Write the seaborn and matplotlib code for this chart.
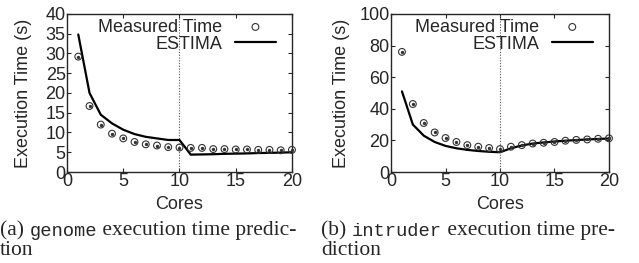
import pandas as pd
import matplotlib.pyplot as plt
import seaborn as sns

# --- data ---
cores = list(range(1, 21))

genome_measured = [29.2, 16.7, 12.0, 9.7, 8.5, 7.6, 7.0, 6.7, 6.3, 6.2,
                   6.1, 6.1, 5.8, 5.8, 5.7, 5.7, 5.6, 5.6, 5.5, 5.6]
genome_estima = [34.8, 20.0, 14.5, 12.3, 10.7, 9.6, 8.9, 8.5, 8.1, 8.1,
                 4.4, 4.45, 4.5, 4.6, 4.65, 4.7, 4.8, 4.85, 4.9, 5.0]

intruder_measured = [76.0, 43.0, 31.0, 25.0, 21.5, 19.0, 17.0, 16.0, 15.2, 14.5,
                     16.0, 17.0, 18.0, 18.5, 19.0, 19.8, 20.3, 20.6, 21.0, 21.3]
intruder_estima = [51.0, 30.0, 23.0, 19.0, 16.5, 15.0, 14.0, 13.3, 12.8, 12.5,
                   15.0, 16.8, 18.0, 18.7, 19.3, 19.8, 20.2, 20.6, 20.9, 21.2]

ylims = [40, 100]
yticks = [list(range(0, 41, 5)), list(range(0, 101, 20))]
captions = [("(a) ", "genome", " execution time predic-", "tion"),
            ("(b) ", "intruder", " execution time pre-", "diction")]

sns.set_style("ticks")
plt.rcParams['font.family'] = ['Liberation Sans', 'DejaVu Sans']
plt.rcParams['font.size'] = 13

fig = plt.figure(figsize=(6.39, 2.63), dpi=100)
ax_a = fig.add_axes([0.1049, 0.346, 0.352, 0.601])
ax_b = fig.add_axes([0.612, 0.346, 0.341, 0.601])

panels = [(ax_a, genome_measured, genome_estima),
          (ax_b, intruder_measured, intruder_estima)]
legend_x = [0.93, 0.927]
ylabel_pad = [10, 7]

for i, (ax, measured, estima) in enumerate(panels):
    df = pd.DataFrame({'Cores': cores, 'Measured': measured, 'ESTIMA': estima})
    ax.axvline(10, color='#555555', linestyle=(0, (1, 1.5)), linewidth=0.8, zorder=1)
    sns.lineplot(data=df, x='Cores', y='ESTIMA', ax=ax, color='black',
                 linewidth=1.6, label='ESTIMA', zorder=2)
    sns.scatterplot(data=df, x='Cores', y='Measured', ax=ax, marker='o', s=24,
                    facecolor='none', edgecolor='#333333', linewidth=0.8,
                    label='Measured Time', zorder=3, clip_on=False)
    ax.scatter(cores, measured, s=2, color='#333333', zorder=4, clip_on=False)

    ax.set_xlim(0, 20)
    ax.set_ylim(0, ylims[i])
    ax.set_xticks([0, 5, 10, 15, 20])
    ax.set_yticks(yticks[i])
    ax.tick_params(direction='in', top=True, right=True, length=3, width=0.8,
                   labelsize=13, pad=1)
    for s in ax.spines.values():
        s.set_linewidth(1.0)
        s.set_visible(True)
    ax.set_xlabel('Cores', fontsize=13, labelpad=4)
    ax.set_ylabel('Execution Time (s)', fontsize=13, labelpad=ylabel_pad[i])

    h, l = ax.get_legend_handles_labels()
    ax.legend(h[::-1], l[::-1], loc='upper right', frameon=False, markerfirst=False,
              fontsize=13, handlelength=2.3, handletextpad=0.7, labelspacing=0.0,
              borderpad=0.0, borderaxespad=0.0, bbox_to_anchor=(legend_x[i], 0.97))

    # caption under each panel (serif text with monospace name)
    x0 = 0.0 if i == 0 else 0.503
    t1 = fig.text(x0, 0.106, captions[i][0], family='Liberation Serif',
                  fontsize=15.5, va='baseline')
    t2 = plt.annotate(captions[i][1], xy=(1, 0), xycoords=t1, va='bottom',
                      family='Liberation Mono', fontsize=13.5)
    plt.annotate(captions[i][2], xy=(1, 0), xycoords=t2, va='bottom',
                 family='Liberation Serif', fontsize=15.5)
    fig.text(x0, 0.030, captions[i][3], family='Liberation Serif',
             fontsize=15.5, va='baseline')

fig.savefig('out.png', dpi=100)
